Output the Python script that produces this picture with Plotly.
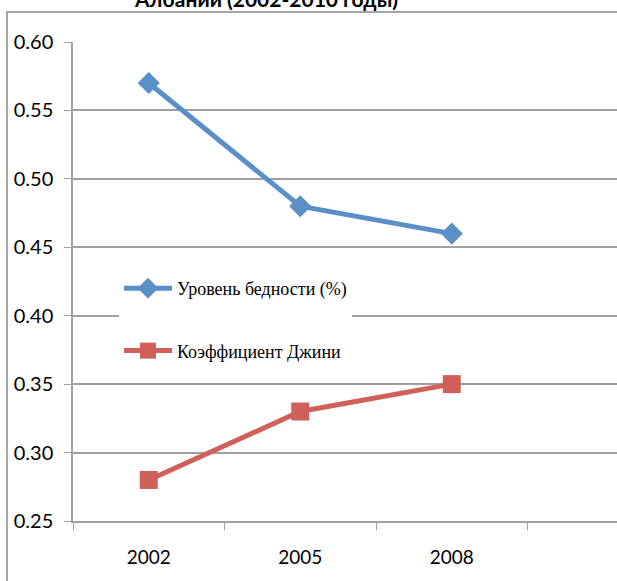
"""Poverty rate vs Gini coefficient, Albania
"""

import plotly.graph_objects as go

years = ["2002", "2005", "2008"]
poverty = [0.57, 0.48, 0.46]
gini = [0.28, 0.33, 0.35]
series_names = ["Уровень бедности (%)", "Коэффициент Джини"]
title_text = "Албании (2002-2010 годы)"

blue = "#5A8FC8"
red = "#CF615A"
grid = "#A0A0A0"

L, R, T, B = 73, 0, 42, 60
W, H = 617, 581
plot_w = W - L - R
plot_h = H - T - B

fig = go.Figure()
fig.add_trace(go.Scatter(x=years, y=poverty, name=series_names[0], legendgroup="a",
                         mode="lines+markers", line={"color": blue, "width": 5},
                         marker={"symbol": "diamond", "size": 17, "color": blue}))
fig.add_trace(go.Scatter(x=years, y=gini, name=series_names[1], legendgroup="b",
                         mode="lines+markers", line={"color": red, "width": 5},
                         marker={"symbol": "square", "size": 18, "color": red}))

# outer chart border (cropped on right and bottom in the reference)
fig.add_shape(type="rect", xref="paper", yref="paper",
              x0=(7 - L) / plot_w, x1=1.5, y0=-0.5, y1=1 + 30 / plot_h,
              line={"color": "#888888", "width": 1.5}, layer="below")

# title is cut off by the top edge in the reference
fig.add_annotation(text="<b>" + title_text + "</b>", xref="paper", yref="paper",
                   x=(266 - L) / plot_w, y=1 + 29 / plot_h, xanchor="center", yanchor="bottom",
                   showarrow=False, font={"family": "Lato", "size": 21, "color": "black"})

fig.update_layout(
    width=W, height=H,
    margin={"l": L, "r": R, "t": T, "b": B, "autoexpand": False},
    paper_bgcolor="white", plot_bgcolor="white",
    showlegend=True,
    legend={"x": (119 - L) / plot_w, "y": 1 - (270 - T) / plot_h, "xanchor": "left", "yanchor": "top",
            "bgcolor": "white", "font": {"family": "Liberation Serif", "size": 18, "color": "black"},
            "traceorder": "grouped", "tracegroupgap": 36, "itemwidth": 48},
)
fig.update_xaxes(type="category", range=[-0.5, -0.5 + plot_w / 151.5], tickson="boundaries",
                 ticks="outside", ticklen=7, tickcolor=grid, showline=True, linecolor=grid, linewidth=1.5,
                 showgrid=False, tickfont={"family": "Lato", "size": 19, "color": "black"},
                 ticklabelstandoff=18, automargin=False)
fig.update_yaxes(range=[0.25, 0.60], dtick=0.05, tick0=0.25, tickformat=".2f",
                 ticks="outside", ticklen=7, tickcolor=grid, showline=True, linecolor=grid, linewidth=1.5,
                 showgrid=True, gridcolor=grid, gridwidth=1.5, zeroline=False,
                 tickfont={"family": "Lato", "size": 20, "color": "black"}, ticklabelstandoff=7,
                 automargin=False)

# drop the default 8px body margin so the figure sits at the window's corner
fig.write_html("out.html", config={"displayModeBar": False},
               post_script="document.body.style.margin = '0';")
